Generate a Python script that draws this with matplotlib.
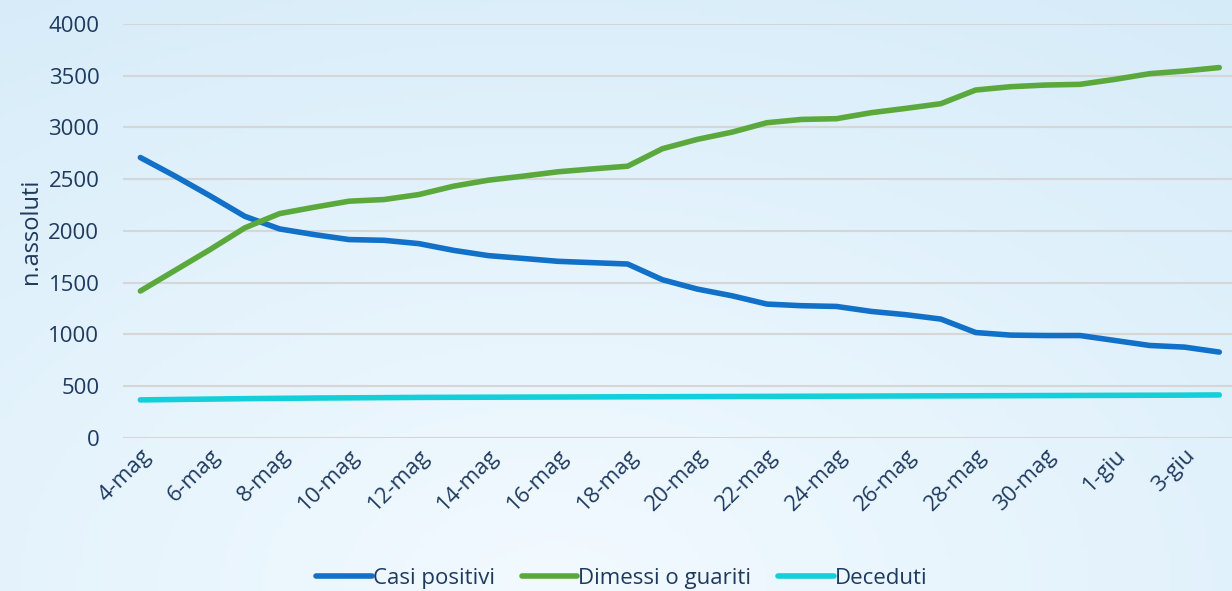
import numpy as np
import matplotlib
matplotlib.use("Agg")
import matplotlib.pyplot as plt

# data (4-mag .. 4-giu, one point per day)
dates = ["4-mag", "5-mag", "6-mag", "7-mag", "8-mag", "9-mag", "10-mag", "11-mag",
         "12-mag", "13-mag", "14-mag", "15-mag", "16-mag", "17-mag", "18-mag", "19-mag",
         "20-mag", "21-mag", "22-mag", "23-mag", "24-mag", "25-mag", "26-mag", "27-mag",
         "28-mag", "29-mag", "30-mag", "31-mag", "1-giu", "2-giu", "3-giu", "4-giu"]

casi_positivi = [2710, 2530, 2340, 2142, 2020, 1965, 1917, 1910, 1878, 1813, 1762, 1735,
                 1707, 1694, 1681, 1529, 1439, 1374, 1294, 1278, 1271, 1223, 1191, 1149,
                 1019, 994, 990, 990, 942, 894, 878, 830]
dimessi_guariti = [1420, 1620, 1820, 2030, 2168, 2230, 2288, 2304, 2352, 2433, 2491, 2530,
                   2572, 2600, 2626, 2795, 2885, 2955, 3046, 3078, 3085, 3143, 3185, 3230,
                   3362, 3394, 3410, 3417, 3465, 3520, 3546, 3579]
deceduti = [368, 372, 376, 380, 383, 386, 388, 390, 392, 393, 394, 395, 396, 397, 398, 399,
            400, 401, 402, 403, 404, 405, 406, 407, 408, 409, 410, 411, 412, 413, 414, 416]

y_ticks = [0, 500, 1000, 1500, 2000, 2500, 3000, 3500, 4000]

plt.rcParams['font.family'] = ['Open Sans', 'DejaVu Sans']
text_col = "#1F3A5F"

fig = plt.figure(figsize=(12.32, 5.91), dpi=100)

# soft blue gradient background
bg = fig.add_axes([0, 0, 1, 1], zorder=-10)
h, w = 120, 240
yy, xx = np.mgrid[0:1:h*1j, 0:1:w*1j]
d = np.sqrt(((xx - 0.45) * 1.3) ** 2 + (yy - 1.0) ** 2)
d = np.clip(d / 1.2, 0, 1)
light = np.array([0.95, 0.98, 1.0])
dark = np.array([0.84, 0.925, 0.975])
img = light[None, None, :] * (1 - d[..., None]) + dark[None, None, :] * d[..., None]
bg.imshow(img, aspect="auto", extent=[0, 1, 0, 1], origin="upper")
bg.axis("off")

ax = fig.add_axes([0.0998, 0.2589, 0.904, 0.7005])
ax.patch.set_alpha(0)
x = np.arange(len(dates))

ax.plot(x, casi_positivi, color="#1170C8", lw=4, solid_capstyle="round", label="Casi positivi")
ax.plot(x, dimessi_guariti, color="#5BA93C", lw=4, solid_capstyle="round", label="Dimessi o guariti")
ax.plot(x, deceduti, color="#12CFD9", lw=4, solid_capstyle="round", label="Deceduti")

ax.set_xlim(-0.5, 31.5)
ax.set_ylim(0, 4000)
ax.set_yticks(y_ticks)
ax.set_yticklabels([str(v) for v in y_ticks], color=text_col, fontsize=16)
ax.set_xticks(x[::2])
ax.set_xticklabels(dates[::2], rotation=45, ha="right", rotation_mode="anchor",
                   color=text_col, fontsize=16)
ax.tick_params(length=0, pad=5)
ax.tick_params(axis="y", pad=17)
ax.grid(axis="y", color="#D6D6D6", lw=1.5)
ax.set_axisbelow(True)
for s in ax.spines.values():
    s.set_visible(False)
ax.set_ylabel("n.assoluti", color=text_col, fontsize=17, labelpad=4)

ax.legend(loc="lower center", bbox_to_anchor=(0.448, -0.37), ncol=3, frameon=False,
          fontsize=16, handlelength=2.5, handletextpad=0.05, columnspacing=1.2,
          labelcolor=text_col, borderaxespad=0, borderpad=0.1)

fig.savefig("out.png", dpi=100)
